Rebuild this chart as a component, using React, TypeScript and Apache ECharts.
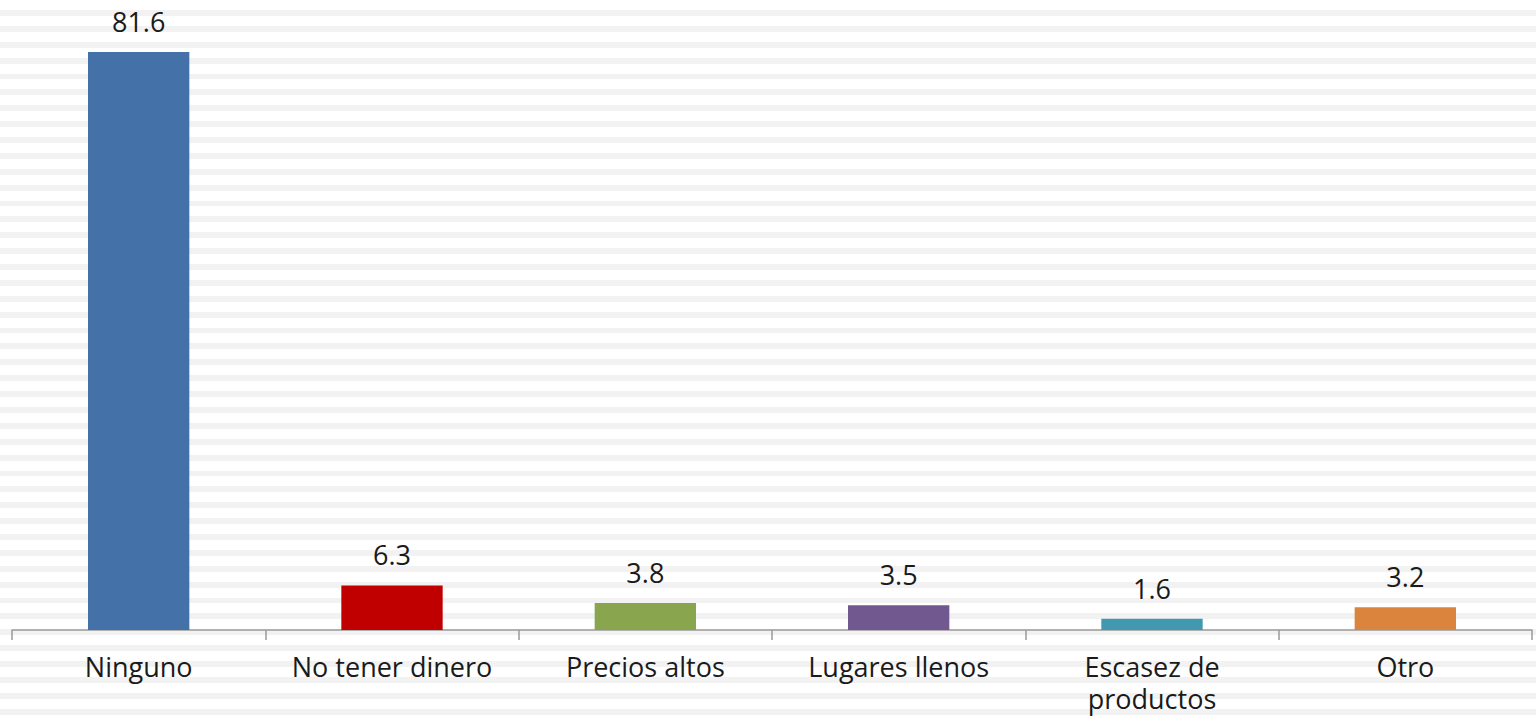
import React, { useEffect, useRef } from "react";
import * as echarts from "echarts";

const categories = [
  "Ninguno",
  "No tener dinero",
  "Precios altos",
  "Lugares llenos",
  "Escasez de\nproductos",
  "Otro",
];
const values = [81.6, 6.3, 3.8, 3.5, 1.6, 3.2];
const barColors = ["#4472A8", "#C00000", "#89A54E", "#71588F", "#4198AF", "#DB843D"];

export default function App() {
  const ref = useRef<HTMLDivElement>(null);
  useEffect(() => {
    if (!ref.current) return;
    const chart = echarts.init(ref.current, null, { renderer: "svg" });
    const font = "'Open Sans', 'Noto Sans', sans-serif";
    chart.setOption({
      animation: false,
      backgroundColor: "transparent",
      grid: { left: 12, right: 4, top: 28, bottom: 88, containLabel: false },
      xAxis: {
        type: "category",
        data: categories,
        axisLine: { show: true, lineStyle: { color: "#9a9a9a", width: 1.5 } },
        axisTick: { show: true, length: 10, inside: false, lineStyle: { color: "#9a9a9a", width: 1.5 } },
        axisLabel: {
          interval: 0,
          color: "#1a1a1a",
          fontFamily: font,
          fontSize: 27,
          lineHeight: 32,
          margin: 20,
        },
      },
      yAxis: {
        type: "value",
        min: 0,
        max: 85,
        show: false,
        splitLine: { show: false },
      },
      series: [
        {
          type: "bar",
          barCategoryGap: "60%",
          data: values.map((v, i) => ({ value: v, itemStyle: { color: barColors[i] } })),
          label: {
            show: true,
            position: "top",
            distance: 17,
            color: "#1a1a1a",
            fontFamily: font,
            fontSize: 27,
            formatter: (p: any) => Number(p.value).toFixed(1),
          },
        },
      ],
    });
    return () => chart.dispose();
  }, []);
  return (
    <div
      ref={ref}
      style={{
        position: "fixed",
        left: 0,
        top: 0,
        width: 1536,
        height: 718,
        background:
          "repeating-linear-gradient(to bottom, #ffffff 0px, #ffffff 10px, #f2f2f2 10px, #f2f2f2 15.88px)",
      }}
    />
  );
}
